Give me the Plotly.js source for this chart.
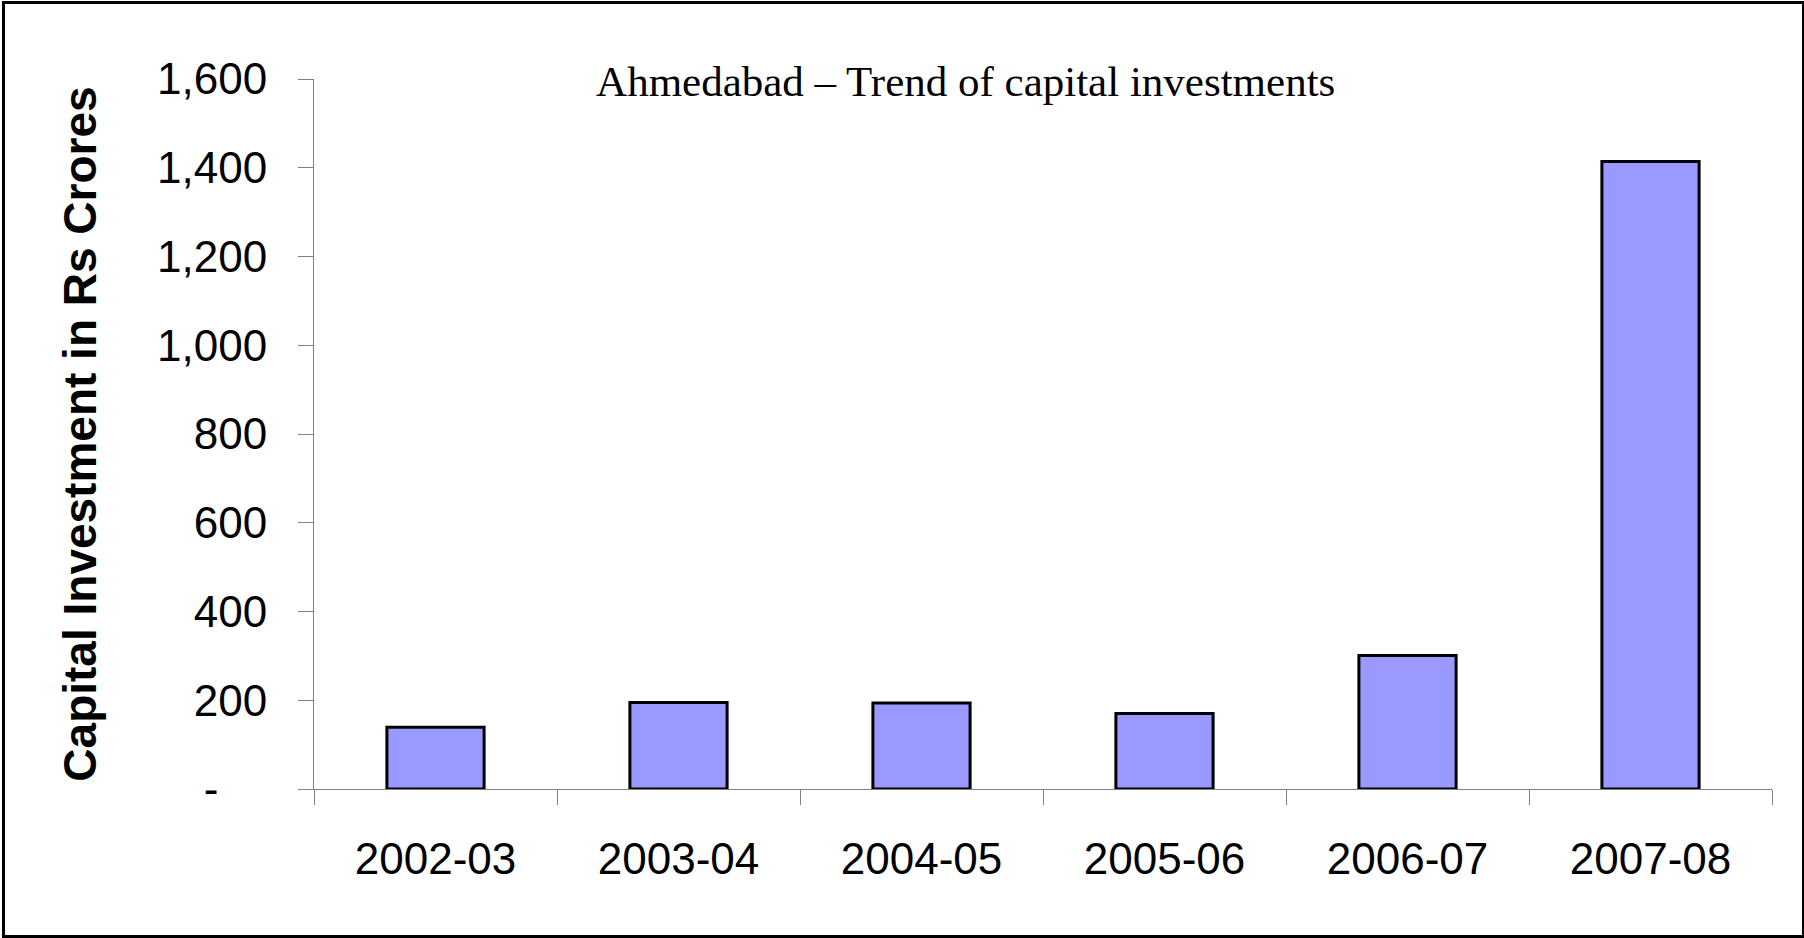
<!DOCTYPE html>
<html>
<head>
<title>Ahmedabad capital investments</title>
<script src="https://cdn.plot.ly/plotly-3.0.1.min.js"></script>
<style>
	body {
		margin: 0;
		background-color: white;
	}
	#chart {
		width: 1804px;
		height: 938px;
	}
	#frame {
		position: absolute;
		left: 2px;
		top: 1px;
		width: 1797px;
		height: 931px;
		border: 3px solid black;
		pointer-events: none;
	}
</style>
</head>
<body>

<div id="chart"></div>
<div id="frame"></div>

<script>
	var years = ['2002-03', '2003-04', '2004-05', '2005-06', '2006-07', '2007-08'];
	var investment = [139, 195, 194, 170, 301, 1414];

	var yTickVals = [0, 200, 400, 600, 800, 1000, 1200, 1400, 1600];
	var yTickText = ['-\u00a0\u00a0\u00a0\u00a0', '200', '400', '600', '800', '1,000', '1,200', '1,400', '1,600'];

	var bars = {
	  x: years,
	  y: investment,
	  type: 'bar',
	  width: 0.4,
	  marker: {
	    color: '#9999ff',
	    line: {color: 'black', width: 3}
	  },
	  hoverinfo: 'x+y'
	};

	var layout = {
	  autosize: false,
	  width: 1804,
	  height: 938,
	  margin: {l: 314, r: 32, t: 79, b: 149, pad: 0},
	  paper_bgcolor: 'white',
	  plot_bgcolor: 'white',
	  showlegend: false,
	  font: {family: 'Liberation Sans, Arial, sans-serif', color: 'black'},
	  title: {
	    text: 'Ahmedabad \u2013 Trend of capital investments',
	    font: {family: 'Liberation Serif, Times New Roman, serif', size: 43, color: 'black'},
	    xref: 'paper',
	    x: 0.447,
	    xanchor: 'center',
	    yref: 'container',
	    y: 0.914,
	    yanchor: 'middle'
	  },
	  xaxis: {
	    type: 'category',
	    showline: true,
	    linecolor: '#808080',
	    linewidth: 1,
	    ticks: 'outside',
	    tickson: 'boundaries',
	    ticklen: 15,
	    tickcolor: '#808080',
	    tickwidth: 1,
	    ticklabelstandoff: 31,
	    tickfont: {size: 44, color: 'black'},
	    showgrid: false,
	    zeroline: false
	  },
	  yaxis: {
	    range: [0, 1600],
	    showline: true,
	    linecolor: '#808080',
	    linewidth: 1,
	    ticks: 'outside',
	    ticklen: 15,
	    tickcolor: '#808080',
	    tickwidth: 1,
	    tickvals: yTickVals,
	    ticktext: yTickText,
	    ticklabelstandoff: 22,
	    tickfont: {size: 44, color: 'black'},
	    showgrid: false,
	    zeroline: false,
	    title: {
	      text: 'Capital Investment in Rs Crores',
	      font: {size: 46, color: 'black', weight: 'bold'},
	      standoff: 45
	    }
	  }
	};

	Plotly.newPlot('chart', [bars], layout, {displayModeBar: false, staticPlot: true});
</script>
</body>
</html>
